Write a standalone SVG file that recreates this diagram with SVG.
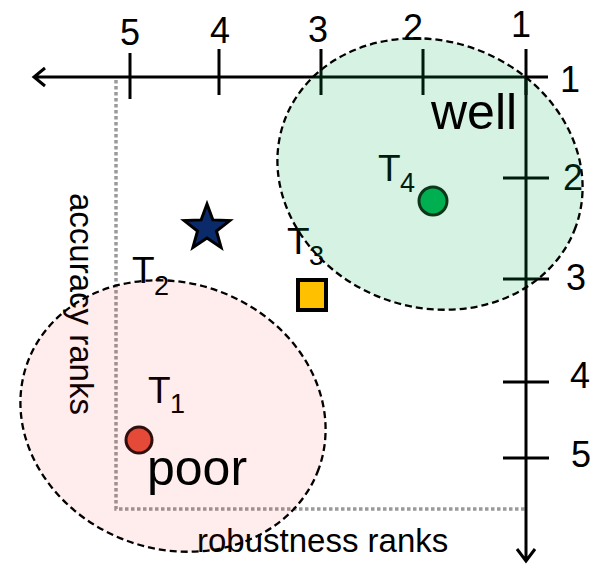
<svg xmlns="http://www.w3.org/2000/svg" width="596" height="564" viewBox="0 0 596 564">
<style>
text{font-family:"Liberation Sans",Arial,sans-serif;fill:#000}
.ax{stroke:#000;stroke-width:3;fill:none}
.dot{stroke:#9a9a9a;stroke-width:3.5;stroke-dasharray:3.5 2.5;fill:none}
.num{font-size:36px;text-anchor:middle}
.tl{font-size:37px}
.sub{font-size:27px}
.lab{font-size:33px}
.big{font-size:50px}
.region{stroke:#000;stroke-width:2.3;stroke-dasharray:7 4}
</style>
<rect width="596" height="564" fill="#fff"/>
<g id="connectors">
<path class="dot" d="M116 80V509H526"/>
<path class="ax" d="M548 77H34M45 68L34 77L45 86"/>
<path class="ax" d="M526 77V561M517 549L526 561L535 549"/>
<path class="ax" d="M130 53V99M219 49V95M321 49V95M423 49V95M526 49V95"/>
<path class="ax" d="M503 178H549M503 279H549M503 382H549M503 458H549"/>
</g>
<g id="axis-labels">
<text class="num" x="130" y="45">5</text>
<text class="num" x="220" y="43">4</text>
<text class="num" x="318" y="42">3</text>
<text class="num" x="413" y="40">2</text>
<text class="num" x="521" y="37">1</text>
<text class="num" x="570" y="92">1</text>
<text class="num" x="573" y="190">2</text>
<text class="num" x="576" y="290">3</text>
<text class="num" x="580" y="388">4</text>
<text class="num" x="581" y="467">5</text>
<text class="lab" transform="translate(70,193) rotate(90)">accuracy ranks</text>
<text class="lab" x="197" y="552">robustness ranks</text>
</g>
<g id="T1">
<circle cx="139" cy="440" r="13" fill="#e2503c" stroke="#201010" stroke-width="3"/>
<text class="tl" x="148" y="403">T</text><text class="sub" x="170" y="413">1</text>
</g>
<g id="T2">
<path d="M207 204L212.9 219.9L229.8 220.6L216.5 231.1L221.1 247.4L207 238L192.9 247.4L197.5 231.1L184.2 220.6L201.1 219.9Z" fill="#0a2a6a" stroke="#000" stroke-width="3" stroke-linejoin="miter"/>
<text class="tl" x="132" y="283">T</text><text class="sub" x="154" y="295">2</text>
</g>
<g id="T3">
<rect x="298" y="280" width="28" height="30" fill="#ffc000" stroke="#000" stroke-width="4"/>
<text class="tl" x="287" y="254">T</text><text class="sub" x="309" y="265">3</text>
</g>
<g id="T4">
<circle cx="433" cy="201" r="14" fill="#00b050" stroke="#102010" stroke-width="3"/>
<text class="tl" x="378" y="181">T</text><text class="sub" x="400" y="192">4</text>
</g>
<g id="well">
<ellipse class="region" cx="430" cy="174" rx="155" ry="133" transform="rotate(20 430 174)" fill="#00b050" fill-opacity="0.16"/>
<text class="big" x="431" y="129">well</text>
</g>
<g id="poor">
<ellipse class="region" cx="173" cy="416" rx="155" ry="133" transform="rotate(20 173 416)" fill="#ff0000" fill-opacity="0.075"/>
<text class="big" x="147" y="485">poor</text>
</g>
</svg>
